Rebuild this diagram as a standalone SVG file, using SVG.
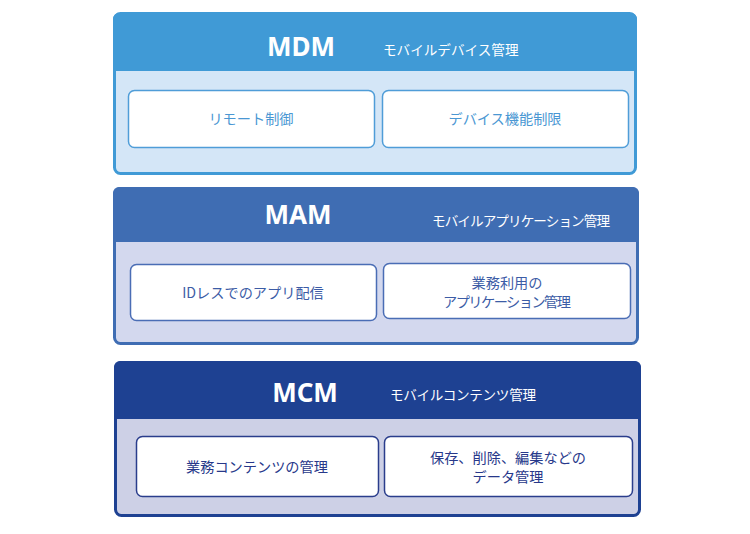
<svg xmlns="http://www.w3.org/2000/svg" width="750" height="534" viewBox="0 0 750 534">
<style>
.t{font-family:"Noto Sans","Noto Sans CJK JP",sans-serif;font-weight:bold;font-size:26px;fill:#fff;text-anchor:middle}
.s{font-family:"Noto Sans CJK JP",sans-serif;font-size:13.6px;fill:#fff}
.b{fill:#fff;stroke-width:1.5}
.l{font-family:"Noto Sans CJK JP",sans-serif;font-size:14.2px;text-anchor:middle}
</style>
<rect width="750" height="534" fill="#fff"/>
<g id="mdm">
<rect x="114.5" y="13.5" width="521" height="160" rx="6" fill="#d4e6f7" stroke="#409ad6" stroke-width="3"/>
<path d="M113 71V19a6 6 0 0 1 6-6h512a6 6 0 0 1 6 6v52z" fill="#409ad6"/>
<text class="t" x="301" y="56">MDM</text>
<text class="s" x="383" y="55">モバイルデバイス管理</text>
<g id="mdm1"><rect class="b" x="128.5" y="90.5" width="246" height="57" rx="6" stroke="#4f9dd8"/>
<text class="l" x="251" y="124" fill="#4a97d3">リモート制御</text></g>
<g id="mdm2"><rect class="b" x="382.5" y="90.5" width="246" height="57" rx="6" stroke="#4f9dd8"/>
<text class="l" x="505" y="124" fill="#4a97d3">デバイス機能制限</text></g>
</g>
<g id="mam">
<rect x="114.5" y="188.5" width="523" height="155" rx="6" fill="#d3d8ee" stroke="#3f6db3" stroke-width="3"/>
<path d="M113 242V193a6 6 0 0 1 6-6h514a6 6 0 0 1 6 6v49z" fill="#3f6db3"/>
<text class="t" x="298" y="224">MAM</text>
<text class="s" x="432" y="226" textLength="178">モバイルアプリケーション管理</text>
<g id="mam1"><rect class="b" x="130.5" y="264.5" width="246" height="56" rx="6" stroke="#4a6db5"/>
<text class="l" x="253" y="298" fill="#3c5ca6">IDレスでのアプリ配信</text></g>
<g id="mam2"><rect class="b" x="383.5" y="263.5" width="247" height="55" rx="6" stroke="#4a6db5"/>
<text class="l" fill="#3c5ca6"><tspan x="507" y="288">業務利用の</tspan><tspan x="507" y="307" textLength="128">アプリケーション管理</tspan></text></g>
</g>
<g id="mcm">
<rect x="115.5" y="362.5" width="524" height="153" rx="6" fill="#cdd0e6" stroke="#1e4192" stroke-width="3"/>
<path d="M114 419V367a6 6 0 0 1 6-6h515a6 6 0 0 1 6 6v52z" fill="#1e4192"/>
<text class="t" x="305" y="402">MCM</text>
<text class="s" x="390" y="400" textLength="146">モバイルコンテンツ管理</text>
<g id="mcm1"><rect class="b" x="136.5" y="436.5" width="242" height="60" rx="6" stroke="#2a3d8c"/>
<text class="l" x="257" y="472" fill="#27388a">業務コンテンツの管理</text></g>
<g id="mcm2"><rect class="b" x="384.5" y="436.5" width="248" height="60" rx="6" stroke="#2a3d8c"/>
<text class="l" fill="#27388a"><tspan x="508" y="463">保存、削除、編集などの</tspan><tspan x="508" y="482">データ管理</tspan></text></g>
</g>
<g id="connectors"/>
</svg>
